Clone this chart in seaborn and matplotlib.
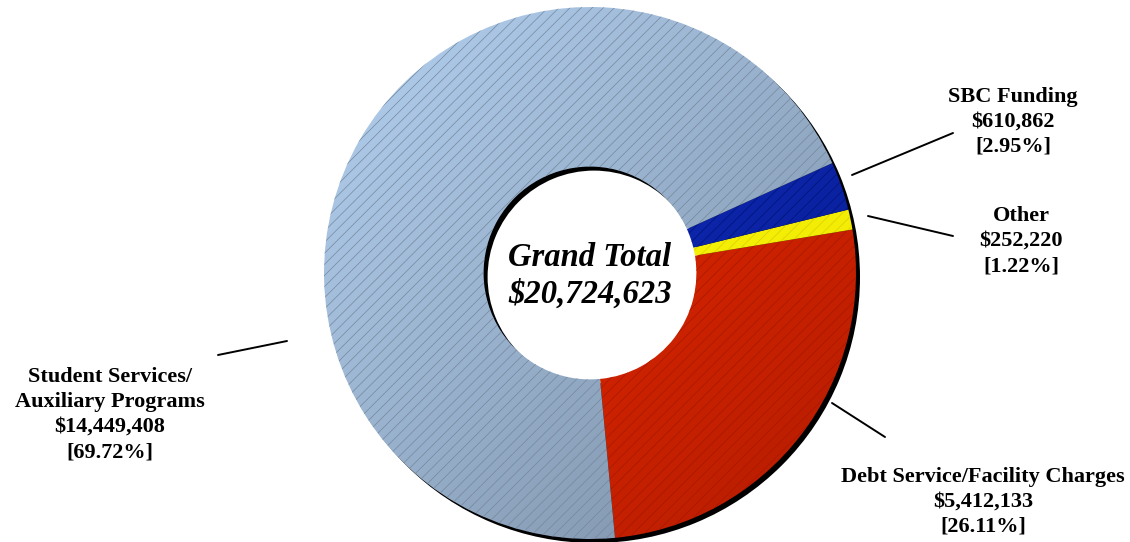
import numpy as np
import matplotlib
matplotlib.use("Agg")
import matplotlib.pyplot as plt
import seaborn as sns
from matplotlib.colors import LinearSegmentedColormap
from matplotlib.patches import Wedge

# ---- data ----
categories = ["Debt Service/Facility Charges", "Other", "SBC Funding",
              "Student Services/\nAuxiliary Programs"]
amounts = [5412133, 252220, 610862, 14449408]
percents = ["26.11%", "1.22%", "2.95%", "69.72%"]
grand_total = 20724623

# ---- style ----
sns.set_theme(style="white")
plt.rcParams["font.family"] = ["Liberation Serif", "DejaVu Serif"]
plt.rcParams["hatch.linewidth"] = 0.5
plt.rcParams["text.color"] = "black"

grad_colors = [("#f42c00", "#b41c00"),   # red
               ("#ffff10", "#eee400"),   # yellow
               ("#1432cc", "#061a8c"),   # blue
               ("#b4d2f2", "#7a8ca2")]   # light blue
hatch_colors = ["#a81800", "#d8d000", "#001478", "#74889e"]

W, H = 1130, 542
fig = plt.figure(figsize=(W / 100, H / 100), dpi=100)
ax = fig.add_axes([0, 0, 1, 1])
cx, cy, R = 590, 269, 266
ring = 0.6 * R

# drop shadow ring
ax.add_patch(Wedge((cx + 4, cy - 4), R, 0, 360, width=ring,
                   facecolor="black", edgecolor="none", zorder=1))

wedges, _ = ax.pie(amounts, startangle=-84.6, counterclock=True, radius=R,
                   center=(cx, cy), colors=[c[0] for c in grad_colors],
                   wedgeprops=dict(width=ring, linewidth=0), frame=False)

# gradient fill + hatch for each wedge
n = 300
xx, yy = np.meshgrid(np.linspace(0, 1, n), np.linspace(0, 1, n))
t = (xx + (1 - yy)) / 2
for w, (c0, c1), hc in zip(wedges, grad_colors, hatch_colors):
    cmap = LinearSegmentedColormap.from_list("g", [c0, c1])
    im = ax.imshow(t, extent=[cx - R, cx + R, cy - R, cy + R], origin="lower",
                   cmap=cmap, vmin=0, vmax=1, zorder=2, interpolation="bilinear")
    im.set_clip_path(w)
    w.set_zorder(3)
    w.set_facecolor("none")
    w.set_edgecolor(hc)
    w.set_linewidth(0)
    w.set_hatch("///")

# center text
ax.text(cx, 542 - 258, "Grand Total", ha="center", va="center", fontsize=23.5,
        fontweight="bold", fontstyle="italic", color="black", zorder=5)
ax.text(cx, 542 - 294, f"${grand_total:,}", ha="center", va="center", fontsize=23.5,
        fontweight="bold", fontstyle="italic", color="black", zorder=5)

# labels: (text x, first line y in px from top) and leader lines (px from top)
label_pos = [(983, 477), (1021, 216), (1013, 97), (110, 377)]
leaders = [((832, 403), (885, 437)), ((868, 216), (953, 236)),
           ((852, 175), (953, 133)), ((218, 355), (287, 341))]
line_h = 25
for cat, amt, pct, (lx, ly), (p0, p1) in zip(categories, amounts, percents,
                                             label_pos, leaders):
    lines = cat.split("\n") + [f"${amt:,}", f"[{pct}]"]
    for i, s in enumerate(lines):
        ax.text(lx, 542 - (ly + i * line_h), s, ha="center", va="center",
                fontsize=16, fontweight="bold", color="black", zorder=5)
    ax.plot([p0[0], p1[0]], [542 - p0[1], 542 - p1[1]], color="black", lw=1.4,
            zorder=5)

ax.set_xlim(0, W)
ax.set_ylim(0, H)
ax.set_aspect("equal")
ax.axis("off")
fig.savefig("out.png", dpi=100, facecolor="white")
